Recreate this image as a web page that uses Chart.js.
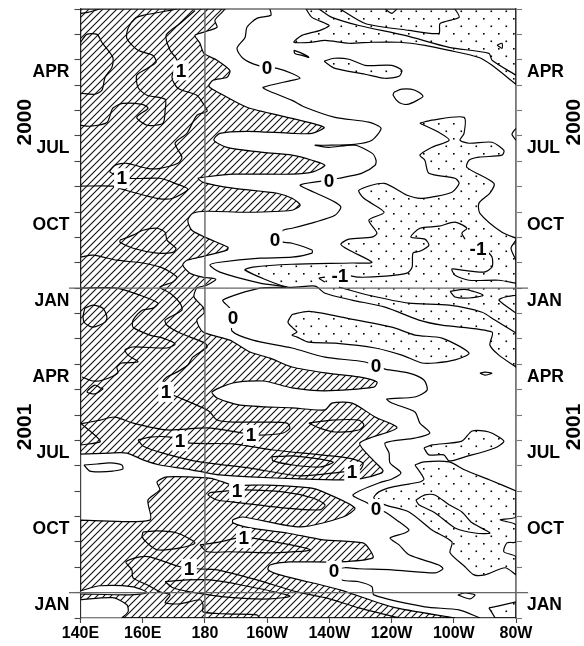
<!DOCTYPE html>
<html>
<head>
<meta charset="utf-8">
<style>
  html, body { margin: 0; padding: 0; background: #fff; }
  canvas { display: block; }
</style>
<script src="https://cdn.jsdelivr.net/npm/chart.js@4"></script>
</head>
<body>
<canvas id="hovmoller" width="584" height="646"></canvas>
<script>
// x = longitude in degrees east (180 = dateline, 280 = 80W), y = months since Feb 2000
const lonTicks = [140, 160, 180, 200, 220, 240, 260, 280];
const lonLabels = ['140E', '160E', '180', '160W', '140W', '120W', '100W', '80W'];
const monthEdges = [0, 1, 2, 3, 4, 5, 6, 7, 8, 9, 10, 11, 12, 13, 14, 15, 16, 17, 18, 19, 20, 21, 22, 23, 24];
const monthMids = [2.5, 5.5, 8.5, 11.5, 14.5, 17.5, 20.5, 23.5];
const monthLabels = ['APR', 'JUL', 'OCT', 'JAN', 'APR', 'JUL', 'OCT', 'JAN'];
const yearMids = [4.46, 16.47];
const yearLabels = ['2000', '2001'];

// hatched areas
const hatchUpper = [[140,0],[140,0],[186.5,0],[186.5,0],[185.5,.13],[183.2,.45],[183.9,.72],[179.4,.92],[176.8,1.04],[178.4,1.35],[179.7,1.75],[183.9,2.02],[188,2.42],[187.1,2.69],[182.6,2.81],[181.3,3.05],[184.8,3.32],[193.5,3.87],[208,4.31],[218.3,4.66],[214.4,4.9],[208,4.9],[193.5,4.82],[184.8,4.9],[182.9,5.17],[187.1,5.45],[198.7,5.65],[208,5.76],[214.4,5.96],[218.6,6.16],[214.4,6.43],[208,6.51],[189,6.51],[179.4,6.63],[177.8,6.67],[179.4,6.83],[189,7.06],[203.2,7.26],[208,7.46],[210.6,7.73],[208,7.93],[193.5,8.01],[180.7,7.97],[176.1,8.05],[174.5,8.32],[175.8,8.72],[180.7,9.03],[187.4,9.39],[187.1,9.5],[178.4,9.78],[174.2,9.9],[172.9,10.09],[175.2,10.41],[179.4,10.57],[183.5,10.65],[180.7,10.88],[177.4,11],[176.5,11.35],[179.4,11.75],[179.7,11.98],[177.4,12.26],[179.4,12.73],[188,13.05],[194.5,13.52],[200.9,13.76],[208,14.11],[218.6,14.34],[229.5,14.5],[235.3,14.7],[234.3,14.9],[218.6,15.05],[208,14.93],[198.7,14.66],[189,14.74],[182.3,15.09],[183.9,15.33],[191.3,15.61],[208,15.72],[218.6,15.8],[220.8,15.53],[227.3,15.53],[234.7,16.08],[241.7,16.51],[229.8,17.1],[234,17.77],[237.2,18.17],[236.9,18.28],[229.8,18.52],[223.4,18.56],[210.6,18.52],[194.5,18.44],[184.8,18.36],[180.7,18.28],[174.2,18.13],[165.5,17.97],[160.1,17.77],[154.9,17.5],[149.5,17.5],[140,17.54],[140,17.54]];
const hatchLower = [[140,20.14],[140,20.14],[162.3,20.14],[161.7,19.35],[165.5,18.95],[164.6,18.64],[167.8,18.44],[180.7,18.48],[183.9,18.56],[189,18.76],[200,18.76],[213.8,18.87],[218,19.03],[228.2,19.66],[224.4,20.02],[210.6,20.41],[192.2,20.02],[189,20.13],[189,20.25],[194.5,20.45],[206.4,20.65],[218,20.92],[230.8,21.04],[233,21.31],[234,21.63],[223.4,21.79],[207.3,21.79],[200.9,21.91],[200.3,22.1],[204.1,22.3],[223.4,22.89],[240.1,23.56],[260.4,24],[260.4,24],[140,24],[140,24]];
const whiteFinger = [[140,22.93],[146.3,22.73],[156.9,22.77],[161.4,23],[155.9,23.09],[140,23.05],[140,23.05]];
const whiteCorner = [[140,23.28],[150.4,23.2],[154.9,23.48],[155.3,23.75],[153.3,24],[153.3,24],[140,24],[140,24]];

// stippled areas
const dotsTop = [[212.5,0],[214.4,.33],[219.9,.65],[217,.84],[211.2,1.04],[208.6,1.31],[214.4,1.31],[218.6,1.24],[226.3,1.35],[233.7,1.31],[242.4,1.31],[250.7,1.43],[258.5,1.63],[268.1,1.91],[272.3,2.22],[280,2.97],[280,2.97],[280,0],[280,0],[212.5,0]];
const dotsIsland = [[218.3,2.06],[221.5,1.94],[226.3,1.98],[231.5,2.22],[240.1,2.22],[243.3,2.42],[242.4,2.65],[237.9,2.73],[231.5,2.57],[221.8,2.34]];
const dotsMain = [[249.1,4.5],[253,4.38],[263.3,4.27],[263.3,4.9],[262,5.17],[264.9,5.29],[272.3,5.25],[276.1,5.57],[275.5,5.76],[268.1,5.84],[264.9,5.96],[264.2,6.24],[272.9,6.87],[271.6,7.26],[268.1,7.65],[268.4,8.05],[275.5,8.8],[280,9.03],[280,9.03],[280,14.11],[280,14.11],[274.5,13.64],[271.6,13.24],[272.3,12.73],[256.2,12.46],[248.8,12.26],[237.9,11.75],[227.3,11.47],[218.6,11.2],[215.4,10.92],[206.4,10.96],[192.9,10.29],[195.4,10.17],[208,10.06],[227.3,10.01],[233.7,9.98],[226.3,9.5],[223.7,9.27],[226.3,9.07],[233.7,8.99],[235.3,8.83],[232.7,8.32],[237.6,8.01],[231.1,7.46],[229.5,7.14],[237.6,6.87],[245,7.34],[249.8,7.46],[259.4,7.22],[261.7,6.87],[260.4,6.67],[252,6.47],[250.7,5.96],[249.1,5.76],[253,5.45],[258.5,5.17],[255.2,4.86]];
const dotsMid = [[208,12.04],[213.4,11.92],[226.3,12.2],[240.1,12.54],[247.5,12.85],[256.2,12.97],[264.9,13.56],[260.4,13.83],[254,13.95],[249.8,13.95],[243.3,13.64],[234.7,13.36],[221.8,13.17],[213.4,13.13],[209.6,12.93],[208,12.85],[209.6,12.73],[208,12.54],[206.7,12.34]];
const dotsJul = [[250.4,17.3],[253,17.18],[262.6,17.03],[265.9,16.63],[271.3,16.67],[276.1,17.03],[273.2,17.3],[263.6,17.65],[258.5,17.81],[256.8,17.57],[252,17.57]];
const dotsOct = [[247.5,17.97],[250.4,18.52],[249.1,18.64],[240.1,18.84],[235.9,19.03],[234.3,19.27],[237.9,19.54],[245.6,19.82],[253,20.53],[259.4,21],[258.8,21.43],[263.6,21.98],[266.5,22.3],[270,22.3],[276.5,22.02],[280,22.3],[280,22.3],[280,21.59],[276.1,21.39],[277.1,21.04],[280,21],[280,20.33],[274.9,20.13],[280,20.01],[280,18.99],[280,18.99],[271.6,18.56],[263.6,18.17],[258.5,17.85],[250.4,17.85]];
const dotsJan = [[271.3,23.6],[274.5,23.52],[280,23.36],[280,23.36],[280,24],[280,24],[273.3,24],[273.3,24]];

// contours that only get a line
const zeroLine = [[200.9,0],[201.2,.25],[196.7,.37],[193.5,.72],[192.9,1.12],[190.3,1.55],[192.2,1.94],[197,2.22],[203.2,2.34],[208,2.54],[210.6,2.73],[208,2.81],[198.7,3.09],[200,3.2],[208,3.6],[212.2,3.87],[221.8,4.27],[232.7,4.46],[236.6,4.7],[233.7,5.17],[228.2,5.33],[218.6,5.37],[215.4,5.37],[219.9,5.45],[228.2,5.37],[233.7,5.68],[235,5.96],[234.7,6.16],[230.5,6.47],[223.1,6.67],[217,6.79],[210.6,6.94],[215.1,7.22],[221.8,7.61],[223.7,7.81],[221.8,8.13],[215.4,8.4],[208,8.64],[205.1,8.72],[202.5,9.11],[205.1,9.19],[208,9.23],[214.4,9.5],[214.4,9.62],[208,9.78],[197.7,9.82],[184.8,9.98],[181.6,10.09],[184.8,10.37],[197.7,10.8],[206.4,10.96],[197.7,11],[185.8,11.47],[188,11.79],[189,12.18],[188.7,12.69],[195.4,13.05],[208,13.36],[218.6,13.72],[231.5,13.91],[237.9,14.19],[245.6,14.35],[250.4,14.62],[251.4,15.02],[247.5,15.29],[238.5,15.37],[240.1,15.53],[247.5,15.88],[249.1,16.32],[252.3,16.71],[247.5,16.91],[237.9,17.1],[239.2,17.5],[239.5,17.89],[243,18.28],[240.1,18.52],[235.9,18.68],[227.6,19.15],[232.1,19.46],[235,19.7],[237.9,19.82],[242.4,20.21],[245.6,20.53],[244.3,20.65],[239.5,20.85],[242.4,21.12],[245.6,21.51],[255.2,21.91],[256.5,22.06],[254,22.22],[240.1,22.1],[229.5,22.06],[225,22.02],[221.5,22.14],[224.1,22.5],[229.5,22.57],[233.7,22.77],[234.3,23.09],[250.7,23.56],[261.7,23.68],[268.4,24]];
const oneA = [[140,1.32],[142,1],[145.3,1],[146.9,1.32],[150.4,1.91],[150.1,2.3],[147.9,2.69],[146.9,3.2],[144.6,3.36],[140,3.32]];
const oneTop = [[140,.17],[142.4,.13],[146.3,0]];
const oneB = [[176.8,.06],[172,.57],[167.5,1.04],[168.8,1.63],[171,2.02],[169.4,2.69],[171.3,3.12],[177.4,3.4],[179.4,3.72],[180.7,4.03],[177.4,4.19],[174.2,4.9],[170.4,5.29],[172.6,5.84],[171.3,6.08],[165.5,6.28],[161.4,6.28],[154.9,6.08],[151.1,6.16],[149.5,6.43],[155.3,6.67],[165.5,6.67],[170.4,6.87],[174.5,7.1],[169.7,7.46],[164.6,7.46],[153.3,7.1],[150.4,6.98],[140,6.98]];
const oneC = [[171,0],[167.2,.09],[160.1,.25],[157.5,.37],[155.3,.76],[154.9,1.16],[158.5,1.63],[163.3,1.83],[164.3,2.1],[161.4,2.34],[158.1,2.61],[158.5,3.09],[161.4,3.4],[167.2,3.56],[167.2,3.99],[166.5,4.5],[161.4,4.58],[158.1,4.27],[161.7,3.91],[159.8,3.76],[153.6,3.72],[150.4,3.91],[148.5,4.47],[143,4.62],[140,4.58]];
const oneD = [[140,9.78],[144,9.7],[151.7,9.9],[160.1,10.01],[166.5,10.21],[171,10.57],[169.7,10.76],[165.5,10.96],[168.8,11.2],[172,11.59],[172.6,11.87],[167.2,12.26],[167.8,12.46],[172,12.77],[180,13.17],[180.7,13.32],[176.1,13.72],[174.5,14.03],[171,14.31],[167.8,14.5],[166.5,14.7],[167.5,15.09],[169.7,15.21],[179.4,15.72],[181.6,15.88],[183.9,16.2],[189,16.28],[200,16.28],[206.4,16.32],[207.3,16.51],[205.1,16.71],[197,16.79],[192.2,16.71],[180.7,16.51],[167.8,16.59],[156.9,16.32],[151.1,16.08],[146.3,16.2],[140,16.35]];
const oneE = [[140,11],[151.7,11],[159.1,11.28],[164.9,11.59],[163.3,11.79],[159.8,11.87],[156.9,12.26],[156.9,12.54],[162.3,12.85],[166.5,12.97],[170.4,13.2],[167.8,13.36],[156.9,13.32],[154.3,13.44],[155.3,13.64],[158.5,13.91],[153.3,13.95],[151.7,14.11],[152,14.35],[147.2,14.62],[144,14.66],[140.5,14.5]];
const oneM = [[197.7,24],[196.7,23.88],[187.1,23.84],[179.4,23.76],[179.4,23.48],[178.4,23.28],[172,23.44],[167.2,23.4],[168.8,23.09],[165.5,22.97],[161.4,22.69],[156.9,22.42],[156.5,22.1],[154.6,21.79],[159.1,21.59],[162.3,21.59],[172,21.98],[177.4,22.06],[183.9,22.1],[196.7,22.5],[209.6,22.97],[218.6,23.2],[229.5,23.6],[242.4,24]];
const triangleWest = [[140,16.32],[145.3,16.87],[146.3,17.06],[140,17.18]];
const ridgeOne = [[216.7,0],[220.8,.33],[229.5,.65],[244.3,1.04],[258.5,1.51],[271.3,1.75],[272.3,2.02],[280,2.61]];
const ridgeTwo = [[223.4,0],[231.5,.57],[245.6,.84],[255.2,.96],[255.6,.57],[261.7,.33],[260.4,0]];
const nickTop = [[237.9,0],[240.1,.17],[241.7,0]];
const minusA = [[263.6,9.07],[262.6,8.83],[264.2,8.64],[260.4,8.4],[255.2,8.56],[249.1,8.64],[246.2,8.99],[250.7,9.07],[252,9.31],[249.1,9.55],[246.9,9.62],[246.6,10.17],[245,10.41],[237.9,10.53],[229.5,10.57],[225.7,10.49]];
const minusTick = [[218.6,10.57],[216.7,10.61],[218.6,10.76]];
const minusB = [[270.4,9.5],[272.3,9.78],[272.3,10.17],[269.7,10.37],[262.6,10.29],[259.4,10.25],[260.4,10.49],[264.9,10.69],[274.5,10.69],[280,10.81]];
const arcApr = [[280,4.7],[278.7,4.94],[280,5.17]];
const arcNov = [[280,9.11],[278.4,9.43],[280,9.9]];
const bandEdge = [[223.1,10.96],[232.7,11.28],[245.6,11.59],[258.5,11.67],[269.1,11.95],[273.2,12.26],[280,12.77]];
const notchJan = [[280,11.28],[276.5,11.35],[274.5,11.47],[277.8,11.79],[280,11.98]];
const openLines = [zeroLine, oneA, oneTop, oneB, oneC, oneD, oneE, oneM, triangleWest, ridgeOne, ridgeTwo, nickTop, minusA, minusTick, minusB, arcApr, arcNov, bandEdge, notchJan];

// closed contour loops
const oneIsland = [[152.7,9.11],[156.9,8.91],[160.1,8.72],[164.6,8.64],[167.2,8.8],[167.8,9.11],[170.7,9.43],[169.7,9.59],[164.6,9.62],[156.9,9.43],[152.7,9.19]];
const oneCircle = [[141.4,11.79],[144,11.67],[147.2,11.79],[148.5,12.14],[147.9,12.34],[144,12.54],[141.4,12.38],[140.8,12.14]];
const oneLoop = [[146.3,14.93],[144.6,14.82],[142.1,15.09],[144.6,15.17],[147.2,14.97]];
const oneF = [[158.5,16.99],[162.3,16.87],[168.8,16.87],[174.2,17.1],[189,17.14],[201.9,17.38],[225.7,17.69],[230.8,17.89],[229.8,18.17],[224.4,18.24],[210.6,18.4],[194.5,18.09],[178.4,17.85],[166.5,17.5],[160.1,17.22]];
const twoF = [[201.5,17.65],[208.3,17.61],[221.2,17.85],[217,18.05],[208.3,17.97],[201.9,17.81]];
const oneG = [[213.4,16.32],[220.8,16.2],[229.5,16.2],[231.1,16.39],[229.5,16.59],[221.8,16.67],[216.7,16.51]];
const oneH = [[181.6,19.06],[187.1,18.99],[192.2,18.95],[205.1,19.03],[214.7,19.27],[218.6,19.54],[217,19.74],[205.1,19.66],[191.3,19.46],[183.9,19.35],[181,19.15]];
const oneJ = [[160.1,20.61],[164.6,20.57],[171,20.65],[176.8,21.04],[172,21.24],[164.6,21.31],[161.4,21.04],[159.8,20.8]];
const oneK = [[178.4,21.12],[184.8,21],[190.3,20.85],[195.4,20.85],[213.8,21.31],[201.9,21.43],[188,21.39],[180.7,21.39]];
const oneN = [[167.2,22.57],[174.2,22.5],[181.6,22.5],[191.3,22.69],[207.3,23.13],[200.9,23.25],[189,23.2],[175.2,22.97],[169.7,22.81]];
const loopDecA = [[240.8,3.28],[243.3,3.16],[247.5,3.2],[250.1,3.43],[248.2,3.6],[245,3.76],[242.4,3.68],[240.5,3.4]];
const loopFeb = [[273.9,1.43],[275.5,1.35],[275.5,1.55]];
const loopNick = [[208.6,1.63],[211.2,1.75],[213.4,1.91],[211.2,1.83],[208.9,1.75]];
const loopDots = [[247.8,19.35],[250.7,19.15],[253.9,19.15],[258.5,19.54],[262.6,19.82],[265.9,20.25],[271.6,20.65],[266.8,20.65],[260.4,20.45],[254,19.86],[248.8,19.54]];
const ovalJan = [[258.8,11.13],[263.6,11.05],[269.4,11.28],[264.9,11.39],[260.4,11.35]];
const tinyApr = [[268.4,14.35],[270,14.31],[272.3,14.35],[270,14.43]];
const tinyJan = [[261.3,23.09],[263.6,23.01],[266.8,23.09],[265.2,23.25]];
const whiteJul = [[141.1,17.97],[145.3,17.93],[149.5,17.89],[153.3,17.97],[153.6,18.13],[150.4,18.21],[146.3,18.24],[143,18.21]];
const closedLines = [oneIsland, oneCircle, oneLoop, oneF, twoF, oneG, oneH, oneJ, oneK, oneN, loopDecA, loopFeb, loopNick, loopDots, ovalJan, tinyApr, tinyJan, whiteJul];

// contour labels
const labelText = ['0', '0', '0', '0', '0', '0', '0', '1', '1', '1', '1', '1', '1', '1', '1', '1', '-1', '-1'];
const labelLon = [200, 219.9, 202.5, 189, 235, 235, 221.5, 172.3, 153.3, 167.5, 194.8, 172, 227.3, 190.3, 192.5, 174.9, 223.4, 267.8];
const labelTime = [2.3, 6.75, 9.11, 12.18, 14.07, 19.7, 22.14, 2.42, 6.67, 15.09, 16.79, 17.03, 18.24, 18.99, 20.85, 22.06, 10.53, 9.43];

const hatchPattern = () => {
  const tile = document.createElement('canvas');
  tile.width = tile.height = 7;
  const g = tile.getContext('2d');
  g.strokeStyle = '#111';
  g.lineWidth = 1.1;
  g.beginPath();
  g.moveTo(-1, 1); g.lineTo(1, -1);
  g.moveTo(0, 7); g.lineTo(7, 0);
  g.moveTo(6, 8); g.lineTo(8, 6);
  g.stroke();
  return g.createPattern(tile, 'repeat');
};

const dotPattern = () => {
  const tile = document.createElement('canvas');
  tile.width = tile.height = 15;
  const g = tile.getContext('2d');
  g.fillStyle = '#000';
  g.fillRect(3, 3, 1.6, 1.6);
  g.fillRect(10.5, 10.5, 1.6, 1.6);
  return g.createPattern(tile, 'repeat');
};

const area = (pts, bg) => ({
  data: pts.concat([pts[0]]), showLine: true, fill: 'shape', backgroundColor: bg,
  borderColor: '#000', borderWidth: 1.2, pointRadius: 0, tension: 0.25
});
const contour = pts => ({
  data: pts, showLine: true, fill: false, borderColor: '#000', borderWidth: 1.2, pointRadius: 0, tension: 0.25
});
const rule = pts => ({
  data: pts, showLine: true, fill: false, borderColor: '#666', borderWidth: 1.4, pointRadius: 0, clip: false
});

const hatch = hatchPattern();
const dots = dotPattern();
// chart.js paints the first dataset last, so this list runs top layer first
const datasets = [
  area(hatchUpper, hatch), area(hatchLower, hatch),
  area(whiteFinger, '#fff'), area(whiteCorner, '#fff'),
  area(dotsTop, dots), area(dotsIsland, dots), area(dotsMain, dots), area(dotsMid, dots),
  area(dotsJul, dots), area(dotsOct, dots), area(dotsJan, dots),
  ...openLines.map(contour),
  ...closedLines.map(pts => contour(pts.concat([pts[0]]))),
  rule([[180, 0], [180, 24]]),
  rule([[136.3, 11], [283.9, 11]]),
  rule([[136.3, 23], [283.9, 23]]),
  { ...rule([[140, 0], [280, 0]]), borderColor: '#222', borderWidth: 1 }
].reverse();

// month ticks and label-only ticks share one axis config
const timeAxis = (position, color, width) => ({
  type: 'linear', position, min: 0, max: 24, reverse: true,
  afterBuildTicks: s => { s.ticks = monthEdges.concat(monthMids).map(v => ({ value: v })); },
  afterFit: s => { s.width = position === 'left' ? 80.5 : 68; s.paddingTop = 0; s.paddingBottom = 0; },
  ticks: {
    autoSkip: false, padding: 5, color: '#000',
    font: { family: 'Liberation Sans', weight: 'bold', size: 17.5 },
    callback: v => { const i = monthMids.indexOf(v); return i < 0 ? '' : monthLabels[i]; }
  },
  grid: {
    drawOnChartArea: false, tickLength: 6, tickWidth: 1.1,
    tickColor: c => (monthEdges.includes(c.tick.value) ? color : 'rgba(0,0,0,0)')
  },
  border: { color, width }
});

const textOverlay = {
  id: 'textOverlay',
  afterDatasetsDraw(chart) {
    const { ctx, chartArea, scales: { x, y } } = chart;
    ctx.save();
    ctx.textAlign = 'center';
    ctx.textBaseline = 'middle';
    ctx.font = 'bold 19px "Liberation Sans"';
    labelText.forEach((t, i) => {
      const px = x.getPixelForValue(labelLon[i]);
      const py = y.getPixelForValue(labelTime[i]);
      const w = ctx.measureText(t).width + 5;
      ctx.fillStyle = '#fff';
      ctx.fillRect(px - w / 2, py - 10, w, 20);
      ctx.fillStyle = '#000';
      ctx.fillText(t, px, py + 1);
    });
    ctx.font = 'bold 21px "Liberation Sans"';
    yearLabels.forEach((t, i) => {
      [chartArea.left - 56, chartArea.right + 57].forEach(px => {
        ctx.save();
        ctx.translate(px, y.getPixelForValue(yearMids[i]));
        ctx.rotate(-Math.PI / 2);
        ctx.fillText(t, 0, 1);
        ctx.restore();
      });
    });
    ctx.restore();
  }
};

new Chart(document.getElementById('hovmoller'), {
  type: 'scatter',
  data: { datasets },
  plugins: [textOverlay],
  options: {
    responsive: false,
    animation: false,
    layout: { padding: { top: 9, left: 0, right: 0, bottom: 0 } },
    plugins: { legend: { display: false }, tooltip: { enabled: false } },
    scales: {
      x: {
        type: 'linear', min: 140, max: 280,
        afterBuildTicks: s => { s.ticks = lonTicks.map(v => ({ value: v })); },
        afterFit: s => { s.height = 28; },
        ticks: {
          autoSkip: false, maxRotation: 0, padding: 1, color: '#000',
          font: { family: 'Liberation Sans', weight: 'bold', size: 16 },
          callback: v => lonLabels[lonTicks.indexOf(v)]
        },
        grid: { drawOnChartArea: false, tickLength: 5, tickColor: '#444', tickWidth: 1.1 },
        border: { color: '#444', width: 1.2 }
      },
      y: timeAxis('left', '#444', 1.2),
      yRight: timeAxis('right', '#777', 1.8)
    }
  }
});
</script>
</body>
</html>
